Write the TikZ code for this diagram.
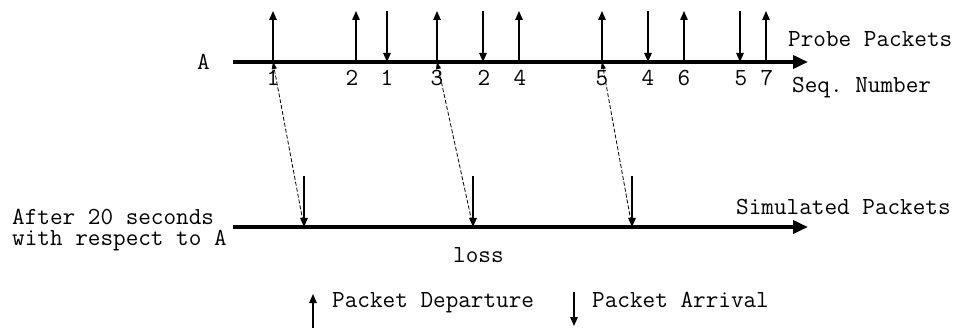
\documentclass[tikz,border=0pt]{standalone}
\usepackage{fontspec}
\usetikzlibrary{arrows.meta}
\begin{document}
\frenchspacing
\begin{tikzpicture}[x=1pt,y=-1pt,
  lbl/.style={inner sep=0pt,anchor=base west,font=\fontsize{24.5}{27}\ttfamily},
  num/.style={inner sep=0pt,anchor=base,font=\fontsize{24.5}{27}\ttfamily},
  axis/.style={line width=3.6pt,-{Triangle[length=15pt,width=13pt]}},
  pkt/.style={line width=1.2pt,-{Triangle[length=9pt,width=7.5pt]}},
  trace/.style={line width=0.8pt,dash pattern=on 4pt off 2pt,-{Triangle[length=7pt,width=5pt]}}]
\useasboundingbox (0,0) rectangle (957,328);
% axes
\coordinate (a0) at (233,62);
\coordinate (a1) at (808,62);
\coordinate (b0) at (233,227);
\coordinate (b1) at (808,227);
\draw[axis] (a0) -- (a1);
\draw[axis] (b0) -- (b1);
% top departures (up arrows)
\foreach \n/\x in {u1/273,u2/356,u3/437,u4/519,u5/602,u6/684,u7/766}{
  \coordinate (\n b) at (\x,62);
  \coordinate (\n t) at (\x,11);
  \draw[pkt] (\n b) -- (\n t);
}
% top arrivals (down arrows)
\foreach \n/\x in {d1/387,d2/483,d3/648,d4/740}{
  \coordinate (\n t) at (\x,11);
  \coordinate (\n b) at (\x,62);
  \draw[pkt] (\n t) -- (\n b);
}
% bottom arrivals
\foreach \n/\x in {s1/304,s2/473,s3/632}{
  \coordinate (\n t) at (\x,176);
  \coordinate (\n b) at (\x,227);
  \draw[pkt] (\n t) -- (\n b);
}
% traces
\draw[trace] (s1b) -- (u1b);
\draw[trace] (s2b) -- (u3b);
\draw[trace] (s3b) -- (u5b);
% sequence numbers
\foreach \t/\x in {1/273,2/352,1/387,3/437,2/484,4/520,5/602,4/648,6/684,5/741,7/767}{
  \node[num] at (\x,86) {\t};
}
% labels
\node[lbl] (lA) at (197,70) {A};
\node[lbl] (lprobe) at (788,47) {Probe Packets};
\node[lbl] (lseq) at (792,93) {Seq. Number};
\node[lbl] (lsim) at (736,215) {Simulated Packets};
\node[lbl,align=left,font=\fontsize{24.5}{21}\ttfamily] (lafter) at (12,246) {After 20 seconds\\with respect to A};
\node[lbl] (lloss) at (453,262) {loss};
% legend
\coordinate (ldb) at (313,330);
\coordinate (ldt) at (313,294);
\draw[pkt] (ldb) -- (ldt);
\node[lbl] (ldep) at (332,307) {Packet Departure};
\coordinate (lat) at (574,292);
\coordinate (lab) at (574,326);
\draw[pkt] (lat) -- (lab);
\node[lbl] (larr) at (592,307) {Packet Arrival};
\end{tikzpicture}
\end{document}
